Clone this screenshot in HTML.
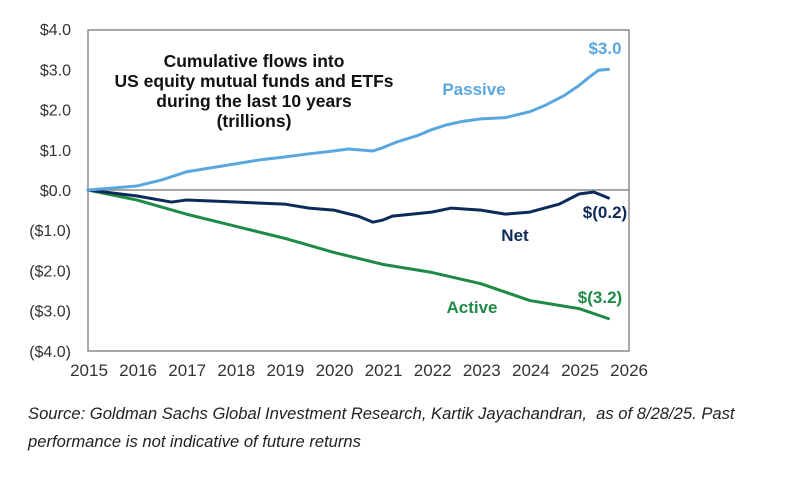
<!DOCTYPE html>
<html><head><meta charset="utf-8"><style>
body{margin:0;background:#fff;width:787px;height:482px;overflow:hidden;font-family:"Liberation Sans",Arial,sans-serif}
.cap{position:absolute;left:28px;top:400px;font-style:italic;font-size:16.6px;color:#222;line-height:28px;width:750px;white-space:nowrap}
</style></head><body>
<svg id="chart" width="787" height="482" style="position:absolute;left:0;top:0"></svg>
<div class="cap">Source: Goldman Sachs Global Investment Research, Kartik Jayachandran,&nbsp; as of 8/28/25. Past<br>performance is not indicative of future returns</div>
<script>
const yTicks=[4,3,2,1,0,-1,-2,-3,-4];
const yTickLabels=["$4.0","$3.0","$2.0","$1.0","$0.0","($1.0)","($2.0)","($3.0)","($4.0)"];
const xTicks=[2015,2016,2017,2018,2019,2020,2021,2022,2023,2024,2025,2026];
const xTickLabels=["2015","2016","2017","2018","2019","2020","2021","2022","2023","2024","2025","2026"];
const passiveT=[2015,2016,2016.5,2017,2017.5,2018,2018.5,2019,2019.5,2020,2020.3,2020.8,2021,2021.3,2021.7,2022,2022.3,2022.6,2023,2023.5,2024,2024.3,2024.7,2025,2025.2,2025.4,2025.6];
const passiveV=[0,0.1,0.25,0.45,0.55,0.65,0.75,0.82,0.9,0.97,1.02,0.97,1.05,1.2,1.35,1.5,1.62,1.7,1.77,1.8,1.95,2.1,2.35,2.6,2.8,2.98,3.0];
const netT=[2015,2016,2016.7,2017,2018,2019,2019.5,2020,2020.5,2020.8,2021,2021.2,2022,2022.4,2023,2023.5,2024,2024.6,2025,2025.3,2025.6];
const netV=[0,-0.15,-0.3,-0.25,-0.3,-0.35,-0.45,-0.5,-0.65,-0.8,-0.75,-0.65,-0.55,-0.45,-0.5,-0.6,-0.55,-0.35,-0.1,-0.05,-0.2];
const activeT=[2015,2016,2017,2018,2019,2020,2021,2022,2023,2024,2025,2025.6];
const activeV=[0,-0.25,-0.6,-0.9,-1.2,-1.55,-1.85,-2.05,-2.33,-2.75,-2.95,-3.2];
const L=88,T=30,R=629,B=351;
const x=t=>L+(t-2015)*49.1;
const y=v=>190-v*40.2;
const svg=document.getElementById('chart');
const NS='http://www.w3.org/2000/svg';
function mk(tag,attrs,txt){const e=document.createElementNS(NS,tag);for(const k in attrs)e.setAttribute(k,attrs[k]);if(txt!==undefined)e.textContent=txt;svg.appendChild(e);return e;}
let e=mk('rect',{x:L,y:T,width:R-L,height:B-T,fill:'none',stroke:'#8a8a8a','stroke-width':1.5});


e=mk('line',{x1:L,x2:R,y1:y(0),y2:y(0),stroke:'#8a8a8a','stroke-width':1.5});


yTicks.forEach((v,i)=>{const t=mk('text',{x:71,y:y(v)+6,'text-anchor':'end','font-size':16,fill:'#333'},yTickLabels[i]);

});
xTicks.forEach((v,i)=>{const t=mk('text',{x:x(v)+1,y:376,'text-anchor':'middle','font-size':17,fill:'#333'},xTickLabels[i]);

});
function line(ts,vs,c,n){const p=mk('polyline',{points:ts.map((t,i)=>x(t)+','+y(vs[i])).join(' '),fill:'none',stroke:c,'stroke-width':3,'stroke-linejoin':'round','stroke-linecap':'round'});

}
line(activeT,activeV,'#1e8a46','active-line');
line(netT,netV,'#0d2b5a','net-line');
line(passiveT,passiveV,'#5aa7e0','passive-line');
const title=["Cumulative flows into","US equity mutual funds and ETFs","during the last 10 years","(trillions)"];
title.forEach((s,i)=>{const t=mk('text',{x:254,y:67+i*20,'text-anchor':'middle','font-size':17.5,'font-weight':'bold',fill:'#111'},s);

});
const labs=[["Passive",474,95,'#5aa7e0','passive-label'],["$3.0",605,54,'#5aa7e0','passive-value'],["Net",515,241,'#0d2b5a','net-label'],["$(0.2)",605,218,'#0d2b5a','net-value'],["Active",472,313,'#1e8a46','active-label'],["$(3.2)",600,303,'#1e8a46','active-value']];
labs.forEach(a=>{const t=mk('text',{x:a[1],y:a[2],'text-anchor':'middle','font-size':17,'font-weight':'bold',fill:a[3]},a[0]);

});
</script>
</body></html>
